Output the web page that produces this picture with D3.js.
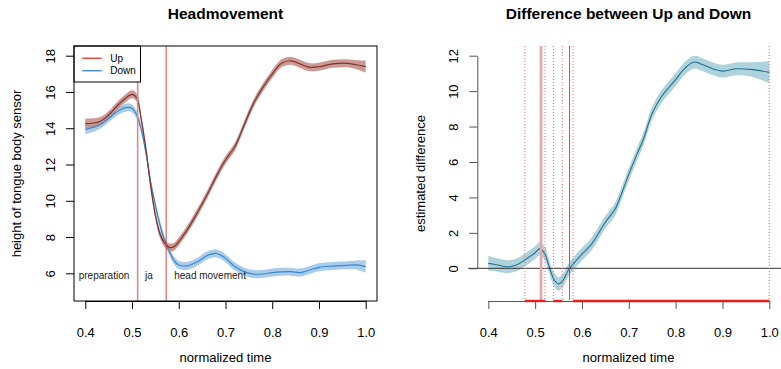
<!DOCTYPE html>
<html>
<head>
<meta charset="utf-8">
<script src="https://cdn.jsdelivr.net/npm/d3@7"></script>
<style>
  body { margin: 0; background: #fff; }
  svg { display: block; font-family: "Liberation Sans", Arial, sans-serif; }
</style>
</head>
<body>
<div id="chart"></div>
<script>
// left panel: smooths for Up / Down
const timeLR = [0.40,0.43,0.45,0.47,0.49,0.50,0.51,0.52,0.53,0.54,0.55,0.56,0.57,0.58,0.59,0.60,0.62,0.64,0.66,0.68,0.70,0.72,0.74,0.76,0.78,0.80,0.82,0.84,0.86,0.88,0.90,0.93,0.96,0.98,1.00];
const upVals = [14.25,14.36,14.73,15.28,15.74,15.87,15.68,14.45,12.8,10.8,9.2,8.15,7.65,7.43,7.47,7.75,8.48,9.35,10.3,11.33,12.25,12.98,14.18,15.37,16.25,16.99,17.58,17.72,17.54,17.36,17.39,17.55,17.58,17.5,17.4];
const upSe = [0.28,0.24,0.22,0.22,0.22,0.22,0.22,0.22,0.22,0.22,0.22,0.22,0.22,0.22,0.22,0.22,0.22,0.22,0.22,0.22,0.22,0.22,0.22,0.22,0.22,0.22,0.22,0.22,0.22,0.22,0.22,0.22,0.22,0.25,0.34];
const downVals = [13.94,14.18,14.55,14.95,15.15,15.1,14.73,13.9,12.62,11.0,9.75,8.65,7.8,7.2,6.7,6.46,6.42,6.64,6.97,7.1,6.83,6.37,6.09,5.96,5.96,6.04,6.08,6.09,6.04,6.18,6.33,6.4,6.44,6.46,6.37];
const downSe = [0.28,0.24,0.22,0.22,0.22,0.22,0.22,0.22,0.22,0.22,0.22,0.22,0.22,0.22,0.22,0.22,0.22,0.22,0.22,0.22,0.22,0.22,0.22,0.22,0.22,0.22,0.22,0.22,0.22,0.22,0.22,0.22,0.22,0.25,0.34];
const groups = ["Up", "Down"];
const phaseLabels = ["preparation", "ja", "head movement"];
const phaseX = [0.44, 0.536, 0.667];
const phaseBounds = [0.512, 0.573];

// right panel: difference smooth
const timeDiff = [0.40,0.42,0.44,0.46,0.48,0.50,0.51,0.52,0.53,0.54,0.55,0.56,0.57,0.58,0.60,0.62,0.65,0.67,0.68,0.70,0.72,0.73,0.75,0.77,0.80,0.82,0.84,0.86,0.88,0.90,0.93,0.96,1.00];
const diffVals = [0.28,0.19,0.09,0.19,0.51,0.88,1.11,0.85,0.09,-0.62,-0.88,-0.66,-0.15,0.2,0.8,1.35,2.6,3.3,3.9,5.3,6.6,7.2,8.75,9.7,10.65,11.3,11.64,11.47,11.25,11.13,11.26,11.23,11.06];
const diffSe = [0.42,0.38,0.36,0.36,0.36,0.36,0.38,0.38,0.38,0.38,0.38,0.38,0.36,0.36,0.36,0.36,0.36,0.36,0.36,0.36,0.36,0.36,0.36,0.36,0.36,0.36,0.36,0.36,0.36,0.36,0.36,0.4,0.62];
const sigRegions = [[0.478, 0.522], [0.539, 0.558], [0.581, 1.0]];
const dottedMarks = [0.478, 0.521, 0.539, 0.558, 0.581, 1.0];
const solidMarks = [0.5126, 0.5735];

const xTicks = [0.4, 0.5, 0.6, 0.7, 0.8, 0.9, 1.0];
const yTicksL = [6, 8, 10, 12, 14, 16, 18];
const yTicksR = [0, 2, 4, 6, 8, 10, 12];

const width = 781, height = 369;
const svg = d3.select('#chart').append('svg')
  .attr('width', width)
  .attr('height', height);

function styleAxis(g, color) {
  g.selectAll('path, line').attr('stroke', color).attr('stroke-width', 1);
  g.selectAll('text').attr('fill', '#000').style('font-size', '13px');
}

// ---------- left panel ----------
const box = { left: 74, right: 377, top: 46, bottom: 301 };
const xL = d3.scaleLinear().domain([0.4, 1.0]).range([85.3, 365.7]);
const yL = d3.scaleLinear().domain([6, 18]).range([273.3, 55.7]);

const left = svg.append('g');

const bandL = (vals, se) => d3.area()
  .x((d, i) => xL(timeLR[i]))
  .y0((d, i) => yL(vals[i] - se[i]))
  .y1((d, i) => yL(vals[i] + se[i]))
  .curve(d3.curveCatmullRom)(timeLR);
const lineL = vals => d3.line()
  .x((d, i) => xL(timeLR[i]))
  .y((d, i) => yL(vals[i]))
  .curve(d3.curveCatmullRom)(timeLR);

left.append('path').attr('d', bandL(downVals, downSe)).attr('fill', '#9fc7e9').attr('opacity', 0.9);
left.append('path').attr('d', bandL(upVals, upSe)).attr('fill', '#c48f87').attr('opacity', 0.9);
left.append('path').attr('d', lineL(downVals)).attr('fill', 'none').attr('stroke', '#3c87cb').attr('stroke-width', 1.2);
left.append('path').attr('d', lineL(upVals)).attr('fill', 'none').attr('stroke', '#84302c').attr('stroke-width', 1.2);

left.append('line')
  .attr('x1', xL(phaseBounds[0])).attr('x2', xL(phaseBounds[0]))
  .attr('y1', box.top).attr('y2', box.bottom)
  .attr('stroke', '#de8a88').attr('stroke-width', 1.6);
left.append('line')
  .attr('x1', xL(phaseBounds[1])).attr('x2', xL(phaseBounds[1]))
  .attr('y1', box.top).attr('y2', box.bottom)
  .attr('stroke', '#d8443e').attr('stroke-width', 1);

left.selectAll('.phase').data(phaseLabels).enter().append('text')
  .attr('x', (d, i) => xL(phaseX[i]))
  .attr('y', yL(5.9))
  .attr('dy', '0.35em')
  .attr('text-anchor', 'middle')
  .style('font-size', '10px')
  .attr('fill', '#222')
  .text(d => d);

// legend
const legend = left.append('g');
legend.append('rect')
  .attr('x', box.left).attr('y', box.top)
  .attr('width', 66.5).attr('height', 36)
  .attr('fill', '#fff').attr('stroke', '#000');
const legendColors = ['#e0473b', '#4a91d2'];
groups.forEach((g, i) => {
  const ly = 58.3 + i * 12.4;
  legend.append('line').attr('x1', 82.3).attr('x2', 101.7).attr('y1', ly).attr('y2', ly)
    .attr('stroke', legendColors[i]).attr('stroke-width', 1.5);
  legend.append('text').attr('x', 110.3).attr('y', ly).attr('dy', '0.35em')
    .style('font-size', '10px').text(g);
});

left.append('rect')
  .attr('x', box.left).attr('y', box.top)
  .attr('width', box.right - box.left).attr('height', box.bottom - box.top)
  .attr('fill', 'none').attr('stroke', '#000');

const axL = left.append('g').attr('transform', `translate(0,${box.bottom})`)
  .call(d3.axisBottom(xL).tickValues(xTicks).tickFormat(d3.format('.1f')).tickSize(8).tickSizeOuter(0).tickPadding(19));
styleAxis(axL, '#000');

const ayL = left.append('g').attr('transform', `translate(${box.left},0)`)
  .call(d3.axisLeft(yL).tickValues(yTicksL).tickSize(8).tickSizeOuter(0));
styleAxis(ayL, '#000');
ayL.select('.domain').attr('stroke', 'none');
ayL.selectAll('text')
  .attr('transform', 'rotate(-90)')
  .attr('x', 0).attr('y', -19).attr('dy', 0)
  .attr('text-anchor', 'middle');

left.append('text')
  .attr('x', 225.5).attr('y', 19.3)
  .attr('text-anchor', 'middle')
  .style('font-size', '15.5px').style('font-weight', 'bold')
  .text('Headmovement');
left.append('text')
  .attr('x', 225.5).attr('y', 362)
  .attr('text-anchor', 'middle')
  .style('font-size', '13px')
  .text('normalized time');
left.append('text')
  .attr('transform', 'translate(20.5,173.5) rotate(-90)')
  .attr('text-anchor', 'middle')
  .style('font-size', '13px')
  .text('height of tongue body sensor');

// ---------- right panel ----------
const xR = d3.scaleLinear().domain([0.4, 1.0]).range([488.3, 769.3]);
const yR = d3.scaleLinear().domain([0, 12]).range([268.3, 55.7]);
const right = svg.append('g');
const rTop = 46, rBottom = 301;

right.append('path')
  .attr('d', d3.area()
    .x((d, i) => xR(timeDiff[i]))
    .y0((d, i) => yR(diffVals[i] - diffSe[i]))
    .y1((d, i) => yR(diffVals[i] + diffSe[i]))
    .curve(d3.curveCatmullRom)(timeDiff))
  .attr('fill', '#afd3dd');
right.append('path')
  .attr('d', d3.line()
    .x((d, i) => xR(timeDiff[i]))
    .y((d, i) => yR(diffVals[i]))
    .curve(d3.curveCatmullRom)(timeDiff))
  .attr('fill', 'none').attr('stroke', '#20708f').attr('stroke-width', 1.1);

// zero line
right.append('line')
  .attr('x1', xR(0.357)).attr('x2', width)
  .attr('y1', yR(0)).attr('y2', yR(0))
  .attr('stroke', '#333').attr('stroke-width', 1);

right.selectAll('.dotted').data(dottedMarks).enter().append('line')
  .attr('x1', d => xR(d)).attr('x2', d => xR(d))
  .attr('y1', rTop).attr('y2', rBottom)
  .attr('stroke', '#f06a6a').attr('stroke-width', 1)
  .attr('stroke-dasharray', '1,2');

right.append('line')
  .attr('x1', xR(solidMarks[0])).attr('x2', xR(solidMarks[0]))
  .attr('y1', rTop).attr('y2', rBottom - 1)
  .attr('stroke', '#e9a3a3').attr('stroke-width', 2.6);
right.append('line')
  .attr('x1', xR(solidMarks[1])).attr('x2', xR(solidMarks[1]))
  .attr('y1', rTop).attr('y2', rBottom - 1)
  .attr('stroke', '#cf4a4a').attr('stroke-width', 1);

const axR = right.append('g').attr('transform', `translate(0,${rBottom})`)
  .call(d3.axisBottom(xR).tickValues(xTicks).tickFormat(d3.format('.1f')).tickSize(8).tickSizeOuter(0).tickPadding(19));
styleAxis(axR, '#555');

right.selectAll('.sig').data(sigRegions).enter().append('line')
  .attr('x1', d => xR(d[0])).attr('x2', d => xR(d[1]))
  .attr('y1', rBottom).attr('y2', rBottom)
  .attr('stroke', '#ee1c1c').attr('stroke-width', 2.4);

const ayR = right.append('g').attr('transform', `translate(477.3,0)`)
  .call(d3.axisLeft(yR).tickValues(yTicksR).tickSize(8).tickSizeOuter(0));
styleAxis(ayR, '#555');
ayR.selectAll('text')
  .attr('transform', 'rotate(-90)')
  .attr('x', 0).attr('y', -19.3).attr('dy', 0)
  .attr('text-anchor', 'middle');

right.append('text')
  .attr('x', 628.5).attr('y', 19.3)
  .attr('text-anchor', 'middle')
  .style('font-size', '15.5px').style('font-weight', 'bold')
  .text('Difference between Up and Down');
right.append('text')
  .attr('x', 628.5).attr('y', 362)
  .attr('text-anchor', 'middle')
  .style('font-size', '13px')
  .text('normalized time');
right.append('text')
  .attr('transform', 'translate(424.5,173.5) rotate(-90)')
  .attr('text-anchor', 'middle')
  .style('font-size', '13px')
  .text('estimated difference');
</script>
</body>
</html>
